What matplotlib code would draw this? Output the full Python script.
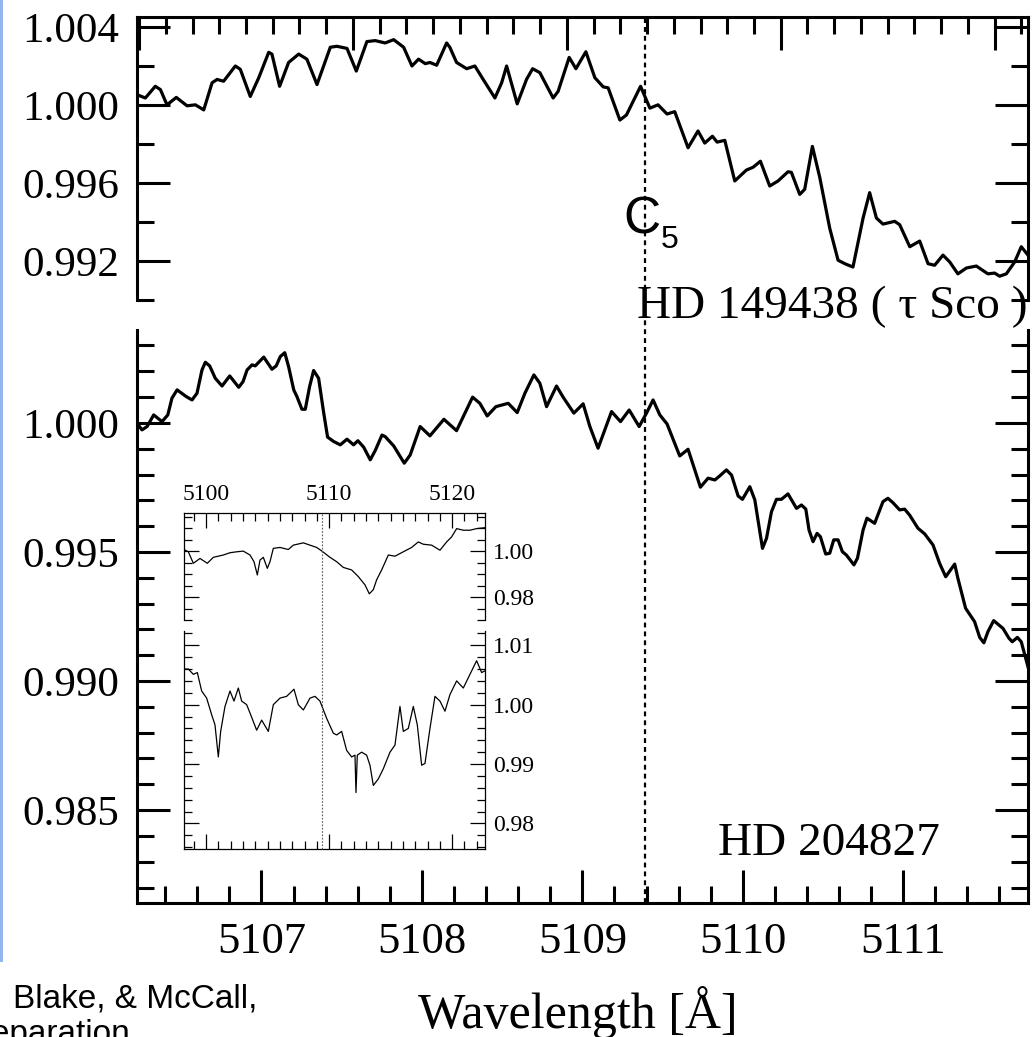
import numpy as np
import matplotlib.pyplot as plt
import matplotlib.transforms as mtransforms
from matplotlib.lines import Line2D
from matplotlib.patches import Rectangle
from matplotlib.ticker import MultipleLocator, FixedLocator, FormatStrFormatter

plt.rcParams['font.family'] = ['Liberation Serif', 'DejaVu Serif']

# HD 149438 (tau Sco), upper panel
tau_wave = [5106.224, 5106.276, 5106.338, 5106.370, 5106.411, 5106.469, 5106.536, 5106.588, 5106.640, 5106.692,
            5106.723, 5106.764, 5106.837, 5106.868, 5106.930, 5106.983, 5107.045, 5107.065, 5107.113, 5107.169,
            5107.232, 5107.283, 5107.346, 5107.429, 5107.470, 5107.533, 5107.591, 5107.657, 5107.709, 5107.771,
            5107.824, 5107.886, 5107.938, 5107.979, 5108.021, 5108.050, 5108.092, 5108.154, 5108.174, 5108.216,
            5108.279, 5108.330, 5108.382, 5108.455, 5108.497, 5108.528, 5108.594, 5108.652, 5108.690, 5108.735,
            5108.818, 5108.849, 5108.918, 5108.960, 5109.022, 5109.078, 5109.130, 5109.161, 5109.234, 5109.275,
            5109.363, 5109.421, 5109.472, 5109.528, 5109.576, 5109.659, 5109.721, 5109.763, 5109.811, 5109.840,
            5109.888, 5109.950, 5110.023, 5110.064, 5110.110, 5110.168, 5110.220, 5110.282, 5110.303, 5110.355,
            5110.386, 5110.434, 5110.480, 5110.542, 5110.594, 5110.636, 5110.687, 5110.750, 5110.791, 5110.833,
            5110.874, 5110.947, 5110.978, 5111.041, 5111.103, 5111.155, 5111.196, 5111.248, 5111.290, 5111.341,
            5111.394, 5111.456, 5111.528, 5111.570, 5111.601, 5111.643, 5111.695, 5111.736, 5111.778]
tau_flux = [1.00052, 1.00035, 1.00095, 1.00078, 1.00000, 1.00038, 0.99995, 1.00000, 0.99974, 1.00113,
            1.00130, 1.00121, 1.00199, 1.00182, 1.00043, 1.00139, 1.00269, 1.00260, 1.00095, 1.00217,
            1.00260, 1.00234, 1.00104, 1.00295, 1.00300, 1.00289, 1.00173, 1.00324, 1.00329, 1.00317,
            1.00334, 1.00295, 1.00199, 1.00234, 1.00211, 1.00217, 1.00203, 1.00317, 1.00295, 1.00217,
            1.00185, 1.00199, 1.00130, 1.00035, 1.00113, 1.00199, 1.00005, 1.00130, 1.00185, 1.00165,
            1.00035, 1.00069, 1.00243, 1.00185, 1.00272, 1.00139, 1.00092, 1.00087, 0.99922, 0.99948,
            1.00095, 0.99983, 1.00000, 0.99953, 0.99965, 0.99780, 0.99866, 0.99804, 0.99839, 0.99809,
            0.99818, 0.99610, 0.99666, 0.99680, 0.99711, 0.99584, 0.99610, 0.99657, 0.99654, 0.99541,
            0.99567, 0.99787, 0.99628, 0.99368, 0.99204, 0.99186, 0.99169, 0.99420, 0.99550, 0.99420,
            0.99389, 0.99403, 0.99386, 0.99273, 0.99302, 0.99186, 0.99178, 0.99230, 0.99195, 0.99134,
            0.99164, 0.99174, 0.99134, 0.99138, 0.99122, 0.99134, 0.99195, 0.99273, 0.99230]

# HD 204827, lower panel
hd_wave = [5106.224, 5106.255, 5106.287, 5106.328, 5106.380, 5106.416, 5106.442, 5106.474, 5106.531, 5106.567,
           5106.598, 5106.629, 5106.650, 5106.677, 5106.712, 5106.754, 5106.802, 5106.858, 5106.885, 5106.910,
           5106.941, 5106.961, 5107.014, 5107.065, 5107.092, 5107.117, 5107.145, 5107.169, 5107.201, 5107.221,
           5107.252, 5107.273, 5107.300, 5107.325, 5107.356, 5107.388, 5107.412, 5107.450, 5107.491, 5107.533,
           5107.574, 5107.601, 5107.637, 5107.678, 5107.709, 5107.751, 5107.771, 5107.824, 5107.890, 5107.927,
           5107.989, 5108.050, 5108.137, 5108.216, 5108.316, 5108.361, 5108.407, 5108.461, 5108.538, 5108.594,
           5108.642, 5108.698, 5108.735, 5108.777, 5108.839, 5108.880, 5108.947, 5109.005, 5109.047, 5109.098,
           5109.182, 5109.238, 5109.292, 5109.354, 5109.400, 5109.441, 5109.483, 5109.528, 5109.607, 5109.659,
           5109.701, 5109.736, 5109.784, 5109.826, 5109.857, 5109.898, 5109.930, 5109.971, 5109.998, 5110.044,
           5110.075, 5110.123, 5110.148, 5110.179, 5110.210, 5110.241, 5110.282, 5110.335, 5110.366, 5110.393,
           5110.413, 5110.438, 5110.463, 5110.484, 5110.517, 5110.542, 5110.567, 5110.594, 5110.621, 5110.646,
           5110.693, 5110.715, 5110.750, 5110.774, 5110.822, 5110.874, 5110.905, 5110.936, 5110.978, 5111.009,
           5111.040, 5111.092, 5111.134, 5111.186, 5111.227, 5111.265, 5111.321, 5111.341, 5111.389, 5111.445,
           5111.477, 5111.503, 5111.528, 5111.564, 5111.622, 5111.659, 5111.680, 5111.712, 5111.736, 5111.778]
hd_flux = [0.99999, 0.99973, 0.99986, 1.00031, 1.00005, 1.00031, 1.00096, 1.00128, 1.00102, 1.00089,
           1.00115, 1.00205, 1.00235, 1.00221, 1.00173, 1.00143, 1.00182, 1.00138, 1.00160, 1.00205,
           1.00225, 1.00221, 1.00255, 1.00208, 1.00221, 1.00257, 1.00272, 1.00218, 1.00128, 1.00102,
           1.00053, 1.00053, 1.00141, 1.00203, 1.00173, 1.00038, 0.99945, 0.99928, 0.99915, 0.99937,
           0.99915, 0.99931, 0.99906, 0.99857, 0.99893, 0.99953, 0.99947, 0.99911, 0.99844, 0.99876,
           0.99986, 0.99950, 1.00014, 0.99970, 1.00100, 1.00076, 1.00027, 1.00063, 1.00076, 1.00040,
           1.00115, 1.00186, 1.00154, 1.00063, 1.00143, 1.00100, 1.00038, 1.00074, 0.99986, 0.99902,
           1.00044, 1.00005, 1.00050, 0.99986, 1.00038, 1.00089, 1.00031, 0.99996, 0.99872, 0.99898,
           0.99818, 0.99751, 0.99786, 0.99779, 0.99795, 0.99818, 0.99798, 0.99717, 0.99704, 0.99753,
           0.99702, 0.99514, 0.99553, 0.99656, 0.99704, 0.99704, 0.99725, 0.99669, 0.99682, 0.99666,
           0.99585, 0.99540, 0.99572, 0.99559, 0.99492, 0.99495, 0.99547, 0.99547, 0.99501, 0.99488,
           0.99450, 0.99476, 0.99585, 0.99631, 0.99611, 0.99695, 0.99708, 0.99691, 0.99663, 0.99666,
           0.99643, 0.99592, 0.99570, 0.99527, 0.99456, 0.99404, 0.99453, 0.99398, 0.99282, 0.99230,
           0.99169, 0.99148, 0.99191, 0.99234, 0.99204, 0.99166, 0.99152, 0.99169, 0.99152, 0.99055]

# inset: wide range, tau Sco (top) and HD 204827 (bottom)
ins_tau_wave = [5098.195, 5098.547, 5098.954, 5099.496, 5100.092, 5100.580, 5101.393, 5101.935, 5102.477, 5103.019,
                5103.561, 5103.886, 5104.157, 5104.374, 5104.645, 5104.970, 5105.187, 5105.458, 5106.000, 5106.677,
                5107.084, 5107.897, 5108.439, 5108.981, 5109.388, 5110.065, 5110.607, 5111.149, 5111.827, 5112.369,
                5112.911, 5113.263, 5113.588, 5113.859, 5114.266, 5114.808, 5115.350, 5116.027, 5116.705, 5117.247,
                5117.653, 5118.331, 5119.008, 5119.550, 5119.957, 5120.363, 5120.905, 5121.447, 5121.989, 5122.667]
ins_tau_flux = [1.0007, 0.9997, 0.9947, 0.9968, 0.9947, 0.9973, 0.9983, 0.9993, 0.9997, 1.0000,
                0.9983, 0.9954, 0.9896, 0.9961, 0.9973, 0.9925, 0.9954, 1.0012, 1.0016, 1.0007,
                1.0026, 1.0036, 1.0026, 1.0016, 1.0001, 0.9973, 0.9954, 0.9929, 0.9918, 0.9889,
                0.9853, 0.9814, 0.9832, 0.9875, 0.9918, 0.9983, 0.9978, 0.9997, 1.0016, 1.0040,
                1.0030, 1.0026, 1.0004, 1.0040, 1.0062, 1.0098, 1.0091, 1.0091, 1.0098, 1.0102]
ins_hd_wave = [5098.195, 5098.547, 5098.954, 5099.279, 5099.631, 5100.038, 5100.444, 5100.715, 5100.986, 5101.176,
               5101.528, 5101.935, 5102.260, 5102.612, 5102.883, 5103.290, 5103.561, 5104.103, 5104.509, 5105.051,
               5105.458, 5106.000, 5106.542, 5107.138, 5107.490, 5107.897, 5108.439, 5108.846, 5109.252, 5109.794,
               5110.336, 5110.607, 5111.014, 5111.420, 5111.827, 5112.098, 5112.179, 5112.287, 5112.640, 5113.046,
               5113.317, 5113.588, 5113.995, 5114.401, 5114.943, 5115.350, 5115.756, 5116.027, 5116.434, 5116.840,
               5117.165, 5117.518, 5117.789, 5118.195, 5118.602, 5119.008, 5119.415, 5119.821, 5120.363, 5120.905,
               5121.447, 5121.989, 5122.396, 5122.667]
ins_hd_flux = [1.0060, 1.0060, 1.0051, 1.0054, 1.0023, 1.0011, 0.9983, 0.9966, 0.9912, 0.9955,
               0.9997, 1.0023, 1.0006, 1.0028, 1.0006, 1.0000, 0.9986, 0.9957, 0.9974, 0.9955,
               1.0000, 1.0011, 1.0014, 1.0026, 1.0000, 0.9991, 1.0011, 1.0014, 1.0006, 0.9977,
               0.9952, 0.9949, 0.9955, 0.9923, 0.9912, 0.9915, 0.9852, 0.9915, 0.9920, 0.9915,
               0.9898, 0.9864, 0.9875, 0.9892, 0.9920, 0.9932, 0.9997, 0.9955, 0.9960, 0.9997,
               0.9966, 0.9898, 0.9901, 0.9960, 1.0014, 1.0006, 0.9989, 1.0017, 1.0040, 1.0028,
               1.0051, 1.0074, 1.0054, 1.0057]

c5_wave = 5109.39
xlim_main = (5106.224, 5111.778)
xlim_inset = (5098.195, 5122.67)

W, H = 1035, 1037
fig = plt.figure(figsize=(W / 100, H / 100), dpi=100)


def fx(px):
    return px / W


def fy(py):
    return 1 - py / H


# main panels
ax_top = fig.add_axes([fx(137), fy(300), fx(891), 283 / H])
ax_bot = fig.add_axes([fx(137), fy(903), fx(891), (903 - 330) / H])

for ax in (ax_top, ax_bot):
    ax.set_xlim(*xlim_main)
    for s in ax.spines.values():
        s.set_linewidth(2.2)
    ax.tick_params(which='both', direction='in', width=2.2, left=True, right=True,
                   labelsize=31, pad=13)
    ax.tick_params(which='major', length=24)
    ax.tick_params(which='minor', length=12)

ax_top.plot(tau_wave, tau_flux, color='black', lw=2.3, solid_joinstyle='round')
ax_top.set_ylim(0.990, 1.0045)
ax_top.spines['bottom'].set_visible(False)
ax_top.yaxis.set_major_locator(MultipleLocator(0.004))
ax_top.yaxis.set_minor_locator(MultipleLocator(0.002))
ax_top.yaxis.set_major_formatter(FormatStrFormatter('%.3f'))
ax_top.xaxis.set_ticks_position('top')
ax_top.xaxis.set_major_locator(FixedLocator(5107.570 + np.arange(-2, 4) * 4 / 3))
ax_top.xaxis.set_minor_locator(FixedLocator(5107.570 + np.arange(-12, 30) / 6))
ax_top.tick_params(axis='x', labeltop=False, labelbottom=False, bottom=False)
ax_top.set_xlim(*xlim_main)

ax_bot.plot(hd_wave, hd_flux, color='black', lw=2.3, solid_joinstyle='round')
ax_bot.set_ylim(0.9814, 1.0036)
ax_bot.spines['top'].set_visible(False)
ax_bot.yaxis.set_major_locator(MultipleLocator(0.005))
ax_bot.yaxis.set_minor_locator(MultipleLocator(0.001))
ax_bot.yaxis.set_major_formatter(FormatStrFormatter('%.3f'))
ax_bot.xaxis.set_major_locator(MultipleLocator(1))
ax_bot.xaxis.set_minor_locator(MultipleLocator(0.2))
ax_bot.xaxis.set_major_formatter(FormatStrFormatter('%d'))
ax_bot.tick_params(axis='x', top=False, labelsize=32, pad=14)

# C5 marker line through both panels
trans = mtransforms.blended_transform_factory(ax_bot.transData, fig.transFigure)
fig.add_artist(Line2D([c5_wave, c5_wave], [fy(903), fy(17)], transform=trans,
                      color='black', lw=1.6, linestyle=(0, (2.2, 1.8)), zorder=1))

# inset
ins_top = fig.add_axes([fx(184), fy(620), fx(301), (620 - 513) / H])
ins_bot = fig.add_axes([fx(184), fy(849), fx(301), (849 - 631) / H])
for ax in (ins_top, ins_bot):
    ax.set_xlim(*xlim_inset)
    for s in ax.spines.values():
        s.set_linewidth(0.9)
    ax.tick_params(which='both', direction='in', width=0.9, left=True, right=True,
                   labelleft=False, labelright=True, labelsize=17, pad=6)
    ax.tick_params(which='major', length=11)
    ax.tick_params(which='minor', length=6)
    ax.xaxis.set_major_locator(MultipleLocator(10))
    ax.xaxis.set_minor_locator(MultipleLocator(1))
    ax.yaxis.set_major_formatter(FormatStrFormatter('%.2f'))

ins_top.plot(ins_tau_wave, ins_tau_flux, color='black', lw=0.9)
ins_top.set_ylim(0.9700, 1.0166)
ins_top.spines['bottom'].set_visible(False)
ins_top.yaxis.set_major_locator(MultipleLocator(0.02))
ins_top.yaxis.set_minor_locator(MultipleLocator(0.005))
ins_top.xaxis.set_ticks_position('top')
ins_top.xaxis.set_major_formatter(FormatStrFormatter('%d'))
ins_top.tick_params(axis='x', labeltop=True, labelbottom=False, bottom=False, pad=6)

ins_bot.plot(ins_hd_wave, ins_hd_flux, color='black', lw=0.9)
ins_bot.set_ylim(0.9757, 1.0124)
ins_bot.spines['top'].set_visible(False)
ins_bot.yaxis.set_major_locator(MultipleLocator(0.01))
ins_bot.yaxis.set_minor_locator(MultipleLocator(0.002))
ins_bot.tick_params(axis='x', top=False, labelbottom=False)

trans_in = mtransforms.blended_transform_factory(ins_bot.transData, fig.transFigure)
fig.add_artist(Line2D([c5_wave, c5_wave], [fy(849), fy(513)], transform=trans_in,
                      color='0.35', lw=0.8, linestyle=(0, (1.5, 1.5))))

# labels
fig.text(fx(578), fy(1028), 'Wavelength [Å]', ha='center', va='baseline', fontsize=36)
fig.text(fx(637), fy(318), 'HD 149438 ( τ Sco )', ha='left', va='baseline', fontsize=34)
fig.text(fx(718), fy(855), 'HD 204827', ha='left', va='baseline', fontsize=34)
fig.text(fx(623), fy(233), 'C', ha='left', va='baseline', fontsize=37, family='Liberation Sans')
fig.text(fx(661), fy(248), '5', ha='left', va='baseline', fontsize=23, family='Liberation Sans')
fig.text(fx(13), fy(1007), 'Blake, & McCall,', ha='left', va='baseline', fontsize=24,
         family='Liberation Sans')
fig.text(fx(130), fy(1043), 'in preparation', ha='right', va='baseline', fontsize=24,
         family='Liberation Sans')

# blue slide edge at the left
fig.add_artist(Rectangle((0, fy(962)), fx(3), 962 / H, transform=fig.transFigure,
                         color='#93b6ee', lw=0))

fig.savefig('out.png', dpi=100)
